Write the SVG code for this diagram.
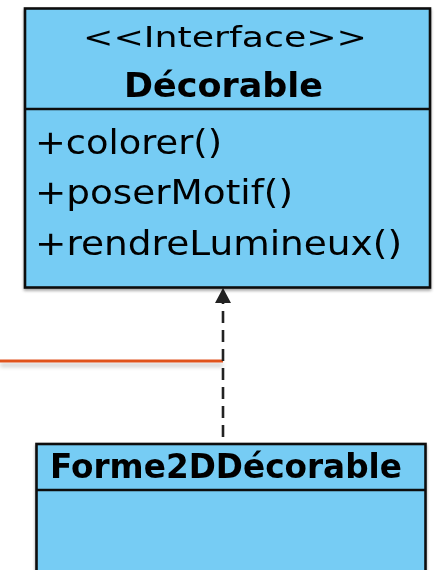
<svg xmlns="http://www.w3.org/2000/svg" width="441" height="570" viewBox="0 0 441 570">
<style>
.box{fill:#76CCF4;stroke:#111;stroke-width:2.6}
.div{stroke:#111;stroke-width:2.4}
.t{font-family:"DejaVu Sans","Liberation Sans",sans-serif;fill:#000}
.b{font-weight:bold}
</style>
<defs>
<filter id="sh" x="-10%" y="-10%" width="120%" height="130%">
<feGaussianBlur in="SourceAlpha" stdDeviation="1.5"/>
<feOffset dx="0" dy="2" result="o"/>
<feComponentTransfer><feFuncA type="linear" slope="0.35"/></feComponentTransfer>
<feMerge><feMergeNode/><feMergeNode in="SourceGraphic"/></feMerge>
</filter>
<filter id="lsh" filterUnits="userSpaceOnUse" x="-10" y="340" width="260" height="50">
<feGaussianBlur in="SourceAlpha" stdDeviation="2"/>
<feOffset dx="0" dy="4"/>
<feComponentTransfer><feFuncA type="linear" slope="0.25"/></feComponentTransfer>
<feMerge><feMergeNode/><feMergeNode in="SourceGraphic"/></feMerge>
</filter>
</defs>
<g id="connectors">
<line x1="0" y1="361" x2="223" y2="361" stroke="#E0531E" stroke-width="3" filter="url(#lsh)"/>
<line x1="223" y1="437" x2="223" y2="301" stroke="#222" stroke-width="2.6" stroke-dasharray="12,7"/>
<polygon points="223,288 215,303 231,303" fill="#222"/>
</g>
<g id="Decorable" filter="url(#sh)">
<rect class="box" x="25" y="8.5" width="405" height="279"/>
<line class="div" x1="25" y1="109" x2="430" y2="109"/>
<text class="t" x="83" y="47" font-size="28" textLength="284" lengthAdjust="spacingAndGlyphs">&lt;&lt;Interface&gt;&gt;</text>
<text class="t b" x="124" y="97" font-size="33" textLength="199" lengthAdjust="spacingAndGlyphs">Décorable</text>
<text class="t" x="35" y="154" font-size="33" textLength="187" lengthAdjust="spacingAndGlyphs">+colorer()</text>
<text class="t" x="35" y="204" font-size="33" textLength="258" lengthAdjust="spacingAndGlyphs">+poserMotif()</text>
<text class="t" x="35" y="255" font-size="33" textLength="367" lengthAdjust="spacingAndGlyphs">+rendreLumineux()</text>
</g>
<g id="Forme2DDecorable" filter="url(#sh)">
<rect class="box" x="36.5" y="444" width="389" height="200"/>
<line class="div" x1="36.5" y1="490" x2="425.5" y2="490"/>
<text class="t b" x="50" y="478" font-size="33" textLength="352" lengthAdjust="spacingAndGlyphs">Forme2DDécorable</text>
</g>
</svg>
